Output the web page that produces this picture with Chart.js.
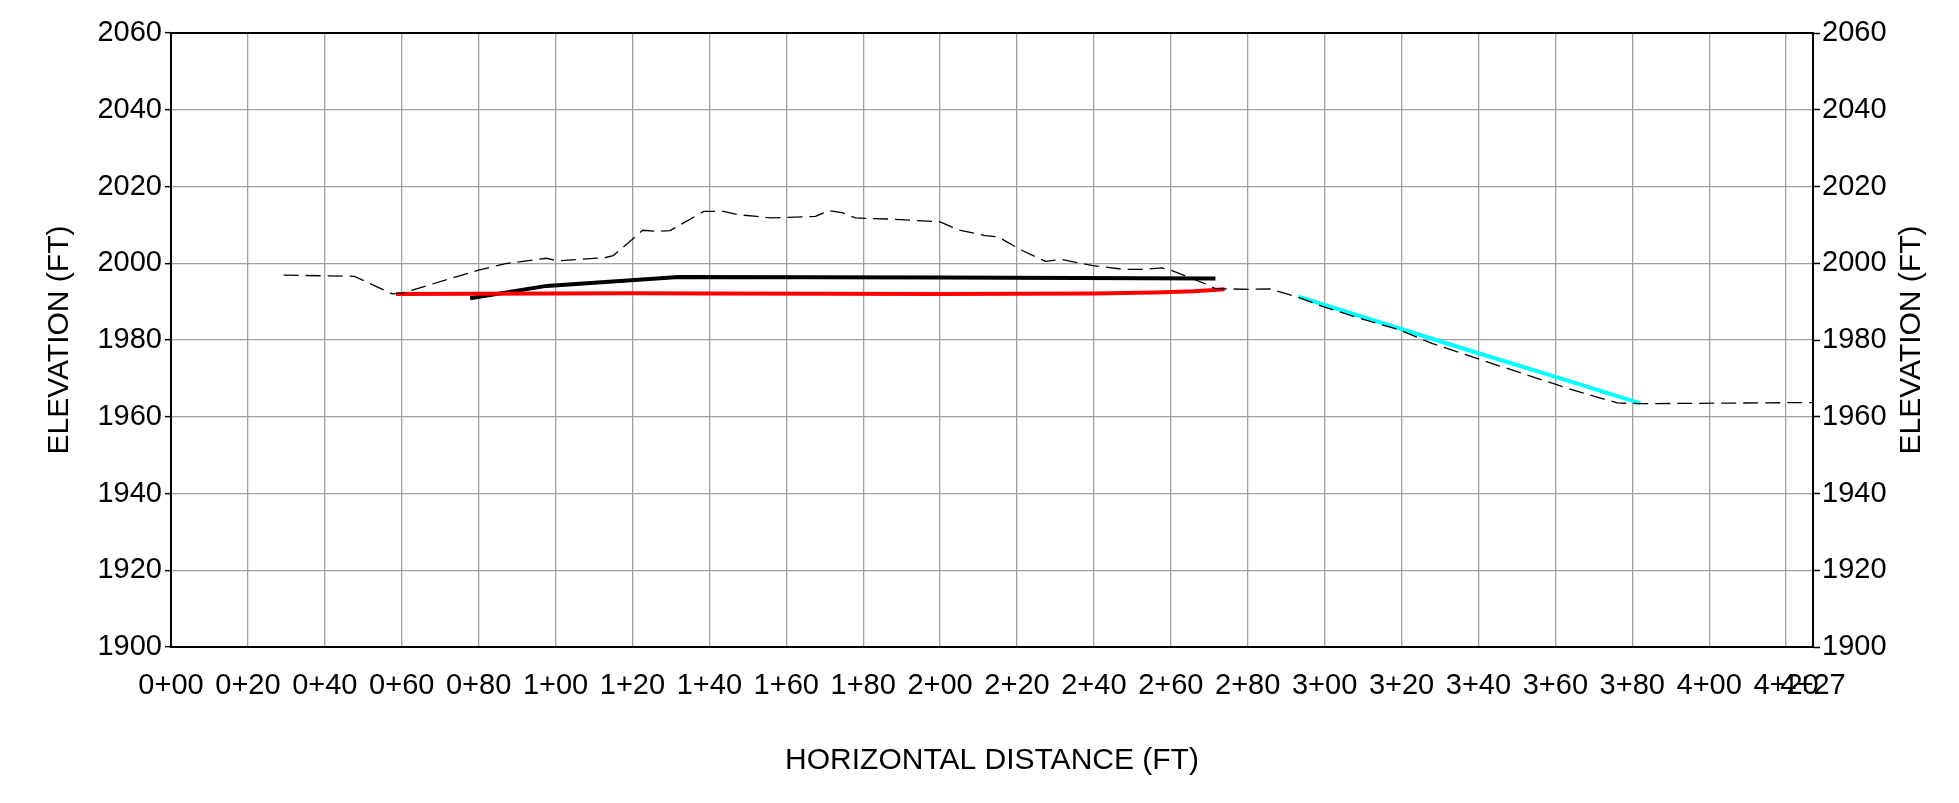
<!DOCTYPE html>
<html>
<head>
<meta charset="utf-8">
<style>
  html, body { margin: 0; padding: 0; background: #fff; overflow: hidden; }
  canvas { display: block; }
</style>
<script src="https://cdn.jsdelivr.net/npm/chart.js@4.4.1/dist/chart.umd.min.js"></script>
</head>
<body>
<canvas id="profileChart" width="1959" height="803"></canvas>
<script>
'use strict';

// station ticks (ft) and elevation ticks (ft)
var xStations = [0, 20, 40, 60, 80, 100, 120, 140, 160, 180, 200, 220, 240, 260, 280, 300, 320, 340, 360, 380, 400, 420, 427];
var yTicks = [1900, 1920, 1940, 1960, 1980, 2000, 2020, 2040, 2060];

// existing ground (dashed)
var groundX = [29.3, 47.7, 57.6, 60, 80, 87, 97.7, 100.6, 113, 115, 122.7, 126.7, 129.8, 138.5, 143.7, 147.8, 152.4, 155.9, 167.6, 171, 174.5, 178, 187.3, 200, 204.8, 211.7, 215, 221, 227.4, 231.5, 239.7, 247.8, 252.4, 257.7, 260, 269.3, 271.6, 280.3, 285.8, 293.2, 299.6, 309, 319.6, 327.9, 339.6, 351.4, 363.2, 376.1, 382, 426.7];
var groundY = [1996.9, 1996.6, 1992.0, 1992.2, 1998.2, 1999.9, 2001.3, 2000.6, 2001.5, 2002.0, 2008.6, 2008.3, 2008.5, 2013.5, 2013.5, 2012.6, 2012.2, 2011.8, 2012.2, 2013.7, 2013.2, 2011.8, 2011.5, 2010.8, 2008.7, 2007.2, 2006.9, 2003.5, 2000.5, 2001.0, 1999.4, 1998.4, 1998.4, 1998.8, 1998.2, 1994.5, 1993.4, 1993.2, 1993.3, 1991.1, 1988.7, 1985.7, 1982.6, 1979.1, 1975.2, 1971.3, 1967.4, 1963.6, 1963.4, 1963.7];

// top of fill (black)
var topX = [77.8, 97.7, 132, 200, 271.6];
var topY = [1990.9, 1994.1, 1996.4, 1996.3, 1996.0];

// pipe invert (red)
var pipeX = [58.5, 120, 140, 200, 240, 256, 266, 274];
var pipeY = [1992.0, 1992.2, 1992.1, 1992.0, 1992.1, 1992.4, 1992.7, 1993.2];

// outlet channel (cyan)
var outletX = [293.2, 337.3, 359.5, 382.2];
var outletY = [1991.3, 1977.4, 1970.6, 1963.5];

var FONT = '"Liberation Sans", Arial, sans-serif';

function toPoints(xs, ys) {
  return xs.map(function (x, i) { return { x: x, y: ys[i] }; });
}

function station(v) {
  var h = Math.floor(v / 100);
  var r = Math.round(v - h * 100);
  return h + '+' + (r < 10 ? '0' : '') + r;
}

function plain(v) { return String(v); }

var frameLine = {
  id: 'frameLine',
  beforeDatasetsDraw: function (chart) {
    var a = chart.chartArea, ctx = chart.ctx;
    ctx.save();
    ctx.strokeStyle = '#000';
    ctx.lineWidth = 2;
    ctx.beginPath();
    ctx.moveTo(a.left, a.top);
    ctx.lineTo(a.right, a.top);
    ctx.stroke();
    ctx.restore();
  },
  afterDraw: function (chart) {
    // right axis title reads bottom-to-top like the left one
    var ctx = chart.ctx, s = chart.scales.y2, a = chart.chartArea;
    ctx.save();
    ctx.font = '30px ' + FONT;
    ctx.fillStyle = '#000';
    ctx.textAlign = 'center';
    ctx.textBaseline = 'middle';
    ctx.translate(s.right - 47, (a.top + a.bottom) / 2);
    ctx.rotate(-Math.PI / 2);
    ctx.fillText('ELEVATION (FT)', 0, 0);
    ctx.restore();
  }
};

function setTicks(list) {
  return function (scale) {
    scale.ticks = list.map(function (v) { return { value: v }; });
  };
}

var line = function (data, color, width, dash) {
  return {
    data: data,
    borderColor: color,
    borderWidth: width,
    borderDash: dash || [],
    pointRadius: 0,
    tension: 0,
    fill: false
  };
};

new Chart(document.getElementById('profileChart').getContext('2d'), {
  type: 'line',
  data: {
    datasets: [
      line(toPoints(groundX, groundY), '#000', 1.3, [15, 7]),
      line(toPoints(pipeX, pipeY), '#ff0000', 4),
      line(toPoints(topX, topY), '#000', 4),
      line(toPoints(outletX, outletY), '#00ffff', 4)
    ]
  },
  options: {
    responsive: false,
    animation: false,
    devicePixelRatio: 1,
    layout: { padding: { top: 33, left: 0, right: 0, bottom: 0 } },
    plugins: { legend: { display: false }, tooltip: { enabled: false } },
    scales: {
      x: {
        type: 'linear',
        min: 0,
        max: 427,
        afterBuildTicks: setTicks(xStations),
        afterFit: function (s) { s.height = 156; },
        ticks: { autoSkip: false, maxRotation: 0, padding: 22, color: '#000', font: { family: FONT, size: 29 }, callback: station },
        grid: { color: '#a0a0a0', lineWidth: 1.3, drawTicks: false },
        border: { display: true, color: '#000', width: 2 },
        title: { display: true, text: 'HORIZONTAL DISTANCE (FT)', color: '#000', font: { family: FONT, size: 30 }, padding: { top: 0, bottom: 24 } }
      },
      y: {
        position: 'left',
        min: 1900,
        max: 2060,
        afterBuildTicks: setTicks(yTicks),
        afterFit: function (s) { s.width = 171; },
        ticks: { padding: 3, color: '#000', font: { family: FONT, size: 29 }, callback: plain },
        grid: { color: '#a0a0a0', lineWidth: 1.3, tickColor: '#000', tickLength: 6, tickWidth: 1.5 },
        border: { display: true, color: '#000', width: 2 },
        title: { display: true, text: 'ELEVATION (FT)', color: '#000', font: { family: FONT, size: 30 }, padding: { top: 42, bottom: 0 } }
      },
      y2: {
        position: 'right',
        min: 1900,
        max: 2060,
        afterBuildTicks: setTicks(yTicks),
        afterFit: function (s) { s.width = 146; },
        ticks: { padding: 2, color: '#000', font: { family: FONT, size: 29 }, callback: plain },
        grid: { drawOnChartArea: false, tickColor: '#000', tickLength: 7, tickWidth: 1.5 },
        border: { display: true, color: '#000', width: 2 }
      }
    }
  },
  plugins: [frameLine]
});
</script>
</body>
</html>
